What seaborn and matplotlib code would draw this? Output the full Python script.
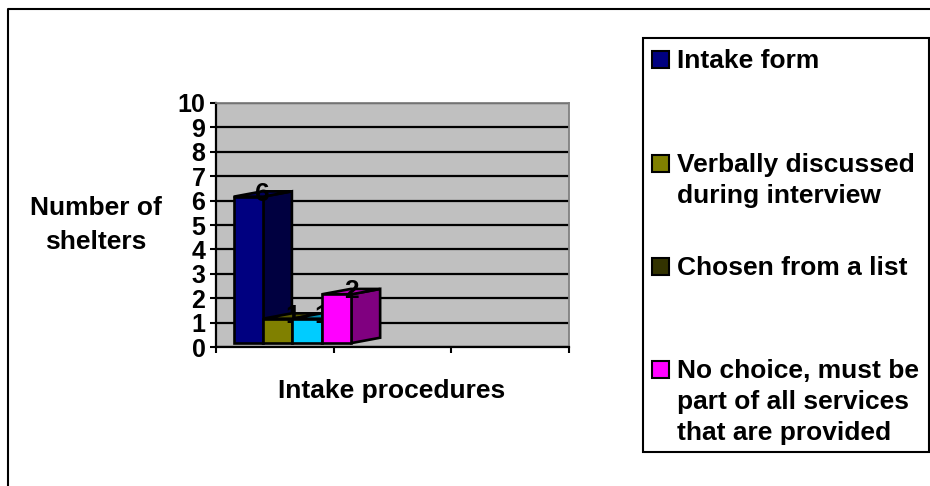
import pandas as pd
import numpy as np
import matplotlib
matplotlib.use("Agg")
import matplotlib.pyplot as plt
from matplotlib.patches import Polygon, Rectangle
from matplotlib.colors import to_rgb
import seaborn as sns

SERIES = [
    "Intake form",
    "Verbally discussed\nduring interview",
    "Chosen from a list",
    "No choice, must be\npart of all services\nthat are provided",
]
VALUES = [6, 1, 1, 2]
BAR_COLORS = ["#000080", "#808000", "#00CCFF", "#FF00FF"]
LEGEND_COLORS = ["#000080", "#808000", "#333300", "#FF00FF"]
Y_TICKS = list(range(0, 11))
X_LABEL = "Intake procedures"
Y_LABEL = "Number of\nshelters"

W, H = 930, 486
FONT = 19
DEPTH_X = 0.245
DEPTH_Y = 0.22
BASE = 0.16

sns.set_theme(style="white")
plt.rcParams["font.family"] = ["Liberation Sans", "DejaVu Sans"]
plt.rcParams["font.weight"] = "bold"

df = pd.DataFrame({"grupo": 0, "serie": SERIES, "valor": VALUES})

fig = plt.figure(figsize=(W / 100, H / 100), dpi=100, facecolor="white")

# capa de fondo en pixeles: marco, leyenda y titulos de ejes
bg = fig.add_axes([0, 0, 1, 1], zorder=0)
bg.set_xlim(0, W)
bg.set_ylim(H, 0)
bg.axis("off")
bg.plot([8, 8, W], [H, 9, 9], color="black", lw=1.5)
bg.add_patch(Rectangle((643, 38), 286, 414, fc="white", ec="black", lw=1.5))

swatch_y = [60, 163, 266, 369]
for nombre, color, y in zip(SERIES, LEGEND_COLORS, swatch_y):
    bg.add_patch(Rectangle((652, y - 8.5), 17, 17, fc=color, ec="black", lw=1.5))
    bg.text(677, y - 10.5, nombre, fontsize=FONT, va="top", ha="left",
            linespacing=1.37, color="black")

bg.text(96, 225, Y_LABEL, fontsize=FONT, ha="center", va="center",
        linespacing=1.55, color="black")
bg.text(392, 391, X_LABEL, fontsize=FONT, ha="center", va="center", color="black")

# grafica
ax = fig.add_axes([216 / W, 1 - 347 / H, 353 / W, 244 / H], zorder=1)
ax.set_facecolor("#C0C0C0")
sns.barplot(
    data=df, x="grupo", y="valor", hue="serie", order=[0, 1, 2],
    hue_order=SERIES, palette=BAR_COLORS, width=1.0, errorbar=None,
    legend=False, bottom=BASE, edgecolor="black", linewidth=1.9, saturation=1,
    ax=ax,
)

ax.set_xlim(-0.65, 2.35)
ax.set_ylim(0, 10)
ax.set_xticks([-0.65, 0.35, 1.35, 2.35])
ax.set_xticklabels([])
ax.set_yticks(Y_TICKS)
ax.set_yticklabels([str(t) for t in Y_TICKS], fontsize=18, fontweight="bold", color="black")
ax.set_xlabel("")
ax.set_ylabel("")
ax.tick_params(axis="both", length=4.6, width=1.5, color="black", bottom=True, left=True, pad=3)
ax.grid(axis="y", color="black", lw=1.6)
ax.set_axisbelow(True)
ax.spines["left"].set_color("black")
ax.spines["bottom"].set_color("black")
ax.spines["left"].set_linewidth(1.6)
ax.spines["bottom"].set_linewidth(1.6)
ax.spines["top"].set_color("#808080")
ax.spines["right"].set_color("#808080")
ax.spines["top"].set_linewidth(1.3)
ax.spines["right"].set_linewidth(1.3)

# caras 3D a partir de las barras que dibujo seaborn
barras = [p for p in ax.patches if p.get_height() > 0]
for i, (barra, valor, color) in enumerate(zip(barras, VALUES, BAR_COLORS)):
    x0, x1 = barra.get_x(), barra.get_x() + barra.get_width()
    y0, y1 = barra.get_y(), barra.get_y() + barra.get_height()
    rgb = np.array(to_rgb(color))
    lado = [(x1, y0), (x1 + DEPTH_X, y0 + DEPTH_Y), (x1 + DEPTH_X, y1 + DEPTH_Y), (x1, y1)]
    techo = [(x0, y1), (x0 + DEPTH_X, y1 + DEPTH_Y), (x1 + DEPTH_X, y1 + DEPTH_Y), (x1, y1)]
    ax.add_patch(Polygon(lado, fc=rgb * 0.5, ec="black", lw=1.9, zorder=3 + i * 0.1))
    ax.add_patch(Polygon(techo, fc=rgb * 0.7, ec="black", lw=1.9, zorder=3 + i * 0.1))
    barra.set_zorder(5 + i)
    ax.text((x0 + x1 + DEPTH_X) / 2, y1 + 0.12, str(valor), fontsize=19,
            ha="center", va="center", color="black", zorder=5.5 + i)

fig.savefig("out.png", dpi=100)
plt.close(fig)
